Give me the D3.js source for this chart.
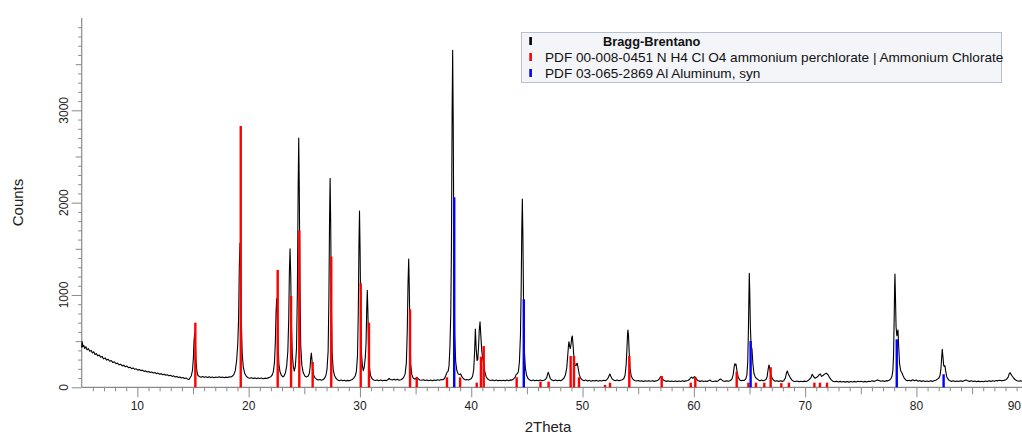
<!DOCTYPE html>
<html>
<head>
<meta charset="utf-8">
<script src="https://cdn.jsdelivr.net/npm/d3@7"></script>
<style>
  html, body { margin: 0; padding: 0; background: #fff; }
  svg { display: block; font-family: "Liberation Sans", Arial, sans-serif; }
</style>
</head>
<body>
<svg id="chart" width="1022" height="437"></svg>
<script>
// ---- Data ----
const xTickLabels = [10, 20, 30, 40, 50, 60, 70, 80, 90];
const yTickLabels = [0, 1000, 2000, 3000];

const legendLabels = [
  "Bragg-Brentano",
  "PDF 00-008-0451 N H4 Cl O4 ammonium perchlorate | Ammonium Chlorate",
  "PDF 03-065-2869 Al Aluminum, syn"
];

// Measured scan [2Theta, counts]
const scanA = [[5.00,430],[5.04,495],[5.10,440],[5.18,455],[5.28,420],[5.38,440],[5.48,405],[5.60,420],[5.72,390],[5.84,400],[5.96,372],[6.08,385],[6.20,355],[6.32,365],[6.45,340],[6.58,350],[6.70,325],[6.83,335],[6.96,308],[7.10,318],[7.24,295],[7.38,303],[7.52,282],[7.66,290],[7.80,268],[7.94,276],[8.08,255],[8.22,262],[8.36,243],[8.50,250],[8.64,232],[8.78,240],[8.92,222],[9.06,230],[9.20,212],[9.34,218],[9.48,202],[9.62,210],[9.76,195],[9.90,200],[10.04,186],[10.18,193],[10.32,180],[10.46,186],[10.60,172],[10.74,178],[10.88,166],[11.02,172],[11.16,160],[11.30,166],[11.44,154],[11.58,160],[11.72,148],[11.86,154],[12.00,142],[12.14,148],[12.28,136],[12.42,142],[12.56,130],[12.70,136],[12.84,124],[12.98,130],[13.12,118],[13.26,124],[13.40,112],[13.54,118],[13.68,106],[13.82,112],[13.96,100],[14.10,106],[14.24,96],[14.38,100],[14.52,88],[14.62,84],[14.72,100],[14.85,126],[14.95,182],[15.03,310],[15.09,498],[15.15,590],[15.21,488],[15.27,294],[15.35,172],[15.45,128],[15.58,115],[15.72,110],[15.86,116],[16.00,108],[16.15,114],[16.30,106],[16.45,113],[16.60,105],[16.75,112],[16.90,104],[17.05,111],[17.20,106],[17.35,114],[17.50,105],[17.65,112],[17.80,104],[17.95,110],[18.10,106],[18.25,113],[18.40,112],[18.55,122],[18.68,140],[18.80,180],[18.92,290],[19.02,460],[19.10,760],[19.16,1300],[19.22,1560],[19.28,1270],[19.34,720],[19.42,370],[19.52,215],[19.65,150],[19.80,118],[19.95,104]];

const scanB = [[20.10,98],[20.25,104],[20.40,96],[20.55,102],[20.70,94],[20.85,101],[21.00,95],[21.15,100],[21.30,93],[21.45,99],[21.60,95],[21.75,102],[21.90,108],[22.02,118],[22.12,135],[22.22,170],[22.32,270],[22.40,490],[22.46,810],[22.52,960],[22.58,790],[22.64,460],[22.72,250],[22.82,165],[22.95,128],[23.08,112],[23.20,125],[23.32,165],[23.42,235],[23.52,390],[23.60,735],[23.66,1250],[23.72,1500],[23.78,1220],[23.84,690],[23.92,360],[24.02,220],[24.10,175],[24.20,230],[24.30,420],[24.38,1050],[24.45,2180],[24.50,2700],[24.55,2150],[24.61,1100],[24.68,450],[24.78,240],[24.90,160],[25.05,122],[25.20,112],[25.35,122],[25.45,150],[25.52,215],[25.58,320],[25.63,370],[25.68,315],[25.74,210],[25.82,140],[25.95,105],[26.10,88],[26.25,80],[26.40,85],[26.55,76],[26.70,84],[26.82,98],[26.94,128],[27.04,195],[27.14,390],[27.21,955],[27.27,1830],[27.32,2265],[27.37,1790],[27.43,910],[27.50,370],[27.60,190],[27.72,125],[27.86,95],[28.00,80],[28.15,72],[28.30,78],[28.45,70],[28.60,76],[28.75,68],[28.90,75],[29.05,70],[29.20,78],[29.34,88],[29.46,102],[29.58,125],[29.68,172],[29.78,340],[29.85,810],[29.91,1540],[29.96,1910],[30.01,1510],[30.07,780],[30.14,360],[30.22,235],[30.30,180],[30.38,215],[30.48,320],[30.55,480],[30.61,860],[30.66,1050],[30.71,840],[30.77,450],[30.85,215],[30.95,128],[31.08,95],[31.22,80],[31.38,74],[31.54,80],[31.70,72],[31.86,78],[32.02,70],[32.18,76],[32.34,72],[32.50,82],[32.62,95],[32.74,85],[32.90,78],[33.06,88],[33.20,80],[33.36,86],[33.52,76],[33.68,82],[33.82,92],[33.94,110],[34.06,145],[34.17,265],[34.25,605],[34.32,1130],[34.38,1390],[34.43,1100],[34.49,580],[34.56,250],[34.66,140],[34.78,100],[34.92,88],[35.04,98],[35.12,108],[35.22,92],[35.38,80],[35.54,76],[35.70,82],[35.86,74],[36.02,80],[36.18,72],[36.34,78],[36.50,72],[36.66,80],[36.82,74],[36.98,82],[37.14,76],[37.30,84],[37.46,82],[37.60,95],[37.72,130],[37.82,162],[37.92,172],[38.00,230],[38.08,420],[38.16,800],[38.22,1510],[38.28,2950],[38.33,3650],[38.38,2880],[38.44,1450],[38.51,560],[38.60,280],[38.70,185],[38.82,145],[38.95,138],[39.05,145],[39.15,118],[39.30,92],[39.45,80],[39.60,84],[39.75,78],[39.90,86]];

const scanC = [[40.02,98],[40.12,120],[40.22,190],[40.30,380],[40.37,630],[40.44,430],[40.52,290],[40.58,300],[40.65,420],[40.72,620],[40.79,710],[40.86,560],[40.94,400],[41.02,320],[41.10,270],[41.20,180],[41.32,120],[41.45,92],[41.60,80],[41.76,74],[41.92,80],[42.08,72],[42.24,78],[42.40,70],[42.56,77],[42.72,70],[42.88,76],[43.04,70],[43.20,78],[43.36,72],[43.52,80],[43.66,78],[43.80,90],[43.94,108],[44.04,140],[44.14,148],[44.24,172],[44.33,280],[44.42,560],[44.49,1100],[44.54,1700],[44.59,2040],[44.64,1650],[44.70,900],[44.77,400],[44.86,210],[44.97,130],[45.10,95],[45.25,80],[45.40,72],[45.56,78],[45.72,70],[45.88,76],[46.04,70],[46.20,78],[46.36,72],[46.52,76],[46.66,85],[46.78,105],[46.86,145],[46.92,162],[46.99,138],[47.10,95],[47.24,78],[47.40,72],[47.56,78],[47.72,70],[47.88,76],[48.04,72],[48.18,82],[48.32,98],[48.46,132],[48.58,210],[48.68,360],[48.74,460],[48.78,494],[48.84,445],[48.90,420],[48.97,470],[49.03,540],[49.08,556],[49.14,470],[49.22,330],[49.32,240],[49.42,235],[49.48,255],[49.53,260],[49.60,210],[49.70,140],[49.82,100],[49.96,82],[50.12,72],[50.28,78],[50.44,68],[50.60,75],[50.76,66],[50.92,74],[51.08,68],[51.24,75],[51.40,66],[51.56,73],[51.72,68],[51.88,76],[52.04,72],[52.18,82],[52.30,102],[52.38,125],[52.45,144],[52.53,122],[52.64,95],[52.78,78],[52.94,72],[53.10,78],[53.26,70],[53.42,77],[53.56,82],[53.70,92],[53.82,130],[53.92,250],[53.99,420],[54.04,570],[54.08,621],[54.13,560],[54.19,380],[54.27,200],[54.38,120],[54.52,88],[54.68,74],[54.84,68],[55.00,74],[55.16,66],[55.32,72],[55.48,64],[55.64,70],[55.80,65],[55.96,72],[56.12,66],[56.28,71],[56.44,64],[56.60,70],[56.76,74],[56.90,92],[56.98,108],[57.05,118],[57.13,105],[57.24,82],[57.38,70],[57.54,64],[57.70,70],[57.86,62],[58.02,68],[58.18,62],[58.34,69],[58.50,62],[58.66,68],[58.82,63],[58.98,70],[59.14,64],[59.30,70],[59.46,74],[59.60,84],[59.72,104],[59.80,110],[59.88,98],[59.96,102],[60.05,115],[60.14,108],[60.26,84],[60.40,70]];

const scanD = [[60.56,64],[60.72,70],[60.88,62],[61.04,68],[61.20,64],[61.34,70],[61.46,78],[61.58,66],[61.74,62],[61.90,68],[62.06,64],[62.20,72],[62.32,84],[62.40,90],[62.50,80],[62.64,68],[62.80,64],[62.96,70],[63.12,66],[63.28,74],[63.42,88],[63.54,140],[63.63,230],[63.69,256],[63.74,240],[63.79,250],[63.87,180],[63.98,110],[64.12,80],[64.26,70],[64.40,76],[64.54,74],[64.66,90],[64.76,130],[64.84,270],[64.90,600],[64.95,1000],[64.98,1235],[65.02,1050],[65.08,650],[65.15,430],[65.22,420],[65.30,260],[65.40,150],[65.52,110],[65.66,92],[65.80,80],[65.94,72],[66.08,78],[66.22,70],[66.36,76],[66.48,85],[66.58,112],[66.68,200],[66.75,242],[66.82,205],[66.90,145],[67.02,100],[67.16,78],[67.30,66],[67.46,72],[67.62,64],[67.78,70],[67.94,64],[68.08,72],[68.22,100],[68.33,158],[68.40,177],[68.47,150],[68.56,128],[68.68,100],[68.82,78],[68.96,66],[69.12,62],[69.28,68],[69.44,60],[69.60,66],[69.76,60],[69.92,67],[70.08,62],[70.24,70],[70.38,85],[70.52,105],[70.64,141],[70.76,115],[70.90,98],[71.04,108],[71.16,120],[71.28,140],[71.36,145],[71.48,118],[71.60,128],[71.72,140],[71.82,148],[71.92,152],[72.04,138],[72.18,108],[72.34,80],[72.50,66],[72.66,60],[72.82,66],[72.98,58],[73.14,64],[73.30,57],[73.46,63],[73.62,56],[73.78,62],[73.94,56],[74.10,63],[74.26,57],[74.42,64],[74.58,58],[74.74,66],[74.90,60],[75.06,65],[75.22,58],[75.38,64],[75.54,58],[75.70,66],[75.86,62],[76.02,70],[76.18,64],[76.34,72],[76.50,80],[76.64,74],[76.80,66],[76.96,70],[77.12,64],[77.28,72],[77.44,70],[77.58,78],[77.70,92],[77.80,120],[77.88,180],[77.94,330],[78.00,750],[78.04,1100],[78.07,1227],[78.11,1000],[78.17,650],[78.24,560],[78.30,600],[78.34,621],[78.40,450],[78.48,260],[78.58,180],[78.68,160],[78.78,130],[78.90,100],[79.04,80],[79.18,70],[79.34,76],[79.50,68],[79.66,82],[79.82,70],[79.98,80],[80.14,66],[80.30,74],[80.46,64],[80.62,70],[80.78,62],[80.94,68],[81.10,62],[81.26,70],[81.42,64],[81.58,72],[81.74,76],[81.88,88],[82.02,100],[82.12,130],[82.20,200],[82.27,330],[82.32,412],[82.38,330],[82.45,235],[82.52,225],[82.56,234],[82.62,180],[82.72,115],[82.86,84],[83.00,70],[83.16,64],[83.32,70],[83.48,62],[83.64,68],[83.80,62],[83.96,70],[84.12,64],[84.28,72],[84.44,78],[84.60,70],[84.76,64],[84.92,70],[85.08,62],[85.24,68],[85.40,60],[85.56,67],[85.72,60],[85.88,66],[86.04,61],[86.20,68],[86.36,62],[86.52,70],[86.68,64],[86.84,72],[87.00,66],[87.16,74],[87.32,70],[87.48,76],[87.64,70],[87.80,74],[87.96,78],[88.10,88],[88.24,110],[88.34,148],[88.42,158],[88.50,140],[88.60,122],[88.74,98],[88.88,82],[89.04,72],[89.20,66],[89.36,72],[89.52,64],[89.68,70],[89.84,64],[90.00,68]];

// Reference pattern sticks [2Theta, counts]
const perchlorateSticks = [[15.21,700],[19.29,2831],[22.61,1271],[23.81,989],[24.55,1697],[25.75,274],[27.42,1415],[30.07,1127],[30.81,700],[34.50,845],[35.10,108],[37.82,108],[39.00,108],[40.49,50],[40.87,332],[41.12,447],[44.08,108],[46.22,61],[46.95,61],[48.93,339],[49.23,339],[49.68,108],[52.02,25],[52.47,50],[54.20,339],[57.11,122],[59.72,50],[60.13,108],[63.85,169],[64.90,50],[65.58,50],[66.33,50],[66.90,217],[67.86,45],[68.54,50],[70.83,50],[71.33,50],[71.96,50]];
const aluminumSticks = [[38.47,2058],[44.72,953],[65.10,502],[78.23,520],[82.44,141]];

// ---- Drawing ----
const svg = d3.select("#chart");
const W = 1022;
const x0 = 81.7, yBase = 387.3;
const x = d3.scaleLinear().domain([5, 90]).range([x0, x0 + 85 * 11.13]);
const y = d3.scaleLinear().domain([0, 4000]).range([yBase, 18]);

const axisColor = "#8a8a8a";

// X axis ticks
function xAxis(values, size) {
  const g = svg.append("g").attr("transform", `translate(0,${yBase})`)
    .call(d3.axisBottom(x).tickValues(values).tickSize(size).tickFormat(""));
  g.select(".domain").remove();
  g.selectAll("line").attr("stroke", axisColor);
  return g;
}
xAxis(d3.range(6, 91, 1).filter(v => v % 5 !== 0), 4);
xAxis(d3.range(15, 91, 10), 7);
xAxis(xTickLabels, 10);

// Y axis ticks
function yAxis(values, size) {
  const g = svg.append("g").attr("transform", `translate(${x0},0)`)
    .call(d3.axisLeft(y).tickValues(values).tickSize(size).tickFormat(""));
  g.select(".domain").remove();
  g.selectAll("line").attr("stroke", axisColor);
  return g;
}
yAxis(d3.range(100, 4000, 100).filter(v => v % 500 !== 0), 3.5);
yAxis([500, 1500, 2500, 3500], 6);
yAxis(yTickLabels, 10);

// Axis lines
svg.append("line").attr("x1", x0).attr("x2", x0).attr("y1", y(4000)).attr("y2", yBase)
  .attr("stroke", axisColor).attr("stroke-width", 1.2);
svg.append("line").attr("x1", x0).attr("x2", W).attr("y1", yBase).attr("y2", yBase)
  .attr("stroke", axisColor).attr("stroke-width", 1.2);

// Tick labels (the last one is pulled inside the right edge so it stays readable)
svg.append("g").selectAll("text").data(xTickLabels).join("text")
  .attr("x", d => x(d) > W - 8 ? W - 1 : x(d)).attr("y", 409.5)
  .attr("text-anchor", d => x(d) > W - 8 ? "end" : "middle")
  .attr("font-size", 12).attr("fill", "#222")
  .text(d => d);
svg.append("g").selectAll("text").data(yTickLabels).join("text")
  .attr("transform", d => `translate(68,${y(d)}) rotate(-90)`)
  .attr("text-anchor", "middle").attr("font-size", 12).attr("fill", "#222")
  .text(d => d);

// Axis titles
svg.append("text").attr("transform", "translate(23,202.5) rotate(-90)")
  .attr("text-anchor", "middle").attr("font-size", 15).attr("fill", "#222").text("Counts");
svg.append("text").attr("x", 548).attr("y", 432)
  .attr("text-anchor", "middle").attr("font-size", 15).attr("fill", "#222").text("2Theta");

// Scan line
const scan = scanA.concat(scanB, scanC, scanD);
svg.append("path").datum(scan)
  .attr("fill", "none").attr("stroke", "#000").attr("stroke-width", 1.1)
  .attr("stroke-linejoin", "round")
  .attr("d", d3.line().x(d => x(d[0])).y(d => y(d[1])));

// Sticks
function sticks(data, color) {
  svg.append("g").selectAll("line").data(data).join("line")
    .attr("x1", d => x(d[0])).attr("x2", d => x(d[0]))
    .attr("y1", yBase).attr("y2", d => y(d[1]))
    .attr("stroke", color).attr("stroke-width", 2.4);
}
sticks(perchlorateSticks, "#ff0000");
sticks(aluminumSticks, "#0000ff");

// Legend
const lg = svg.append("g");
lg.append("rect").attr("x", 521.5).attr("y", 32.5).attr("width", 480).attr("height", 50)
  .attr("fill", "#f3f5f9").attr("stroke", "#b5bfcf").attr("stroke-width", 1);
const legendColors = ["#000", "#ff0000", "#0000ff"];
const legendRows = [41, 57, 73];
lg.selectAll("rect.mk").data(legendLabels).join("rect").attr("class", "mk")
  .attr("x", 529.3).attr("y", (d, i) => legendRows[i] - 4).attr("width", 2.6).attr("height", 8)
  .attr("fill", (d, i) => legendColors[i]);
lg.selectAll("text").data(legendLabels).join("text")
  .attr("x", (d, i) => i === 0 ? 603 : 545)
  .attr("y", (d, i) => legendRows[i] + 4.5)
  .attr("font-size", (d, i) => i === 0 ? 12.8 : 13.6)
  .attr("font-weight", (d, i) => i === 0 ? "bold" : "normal")
  .attr("fill", "#111")
  .text(d => d);
</script>
</body>
</html>
